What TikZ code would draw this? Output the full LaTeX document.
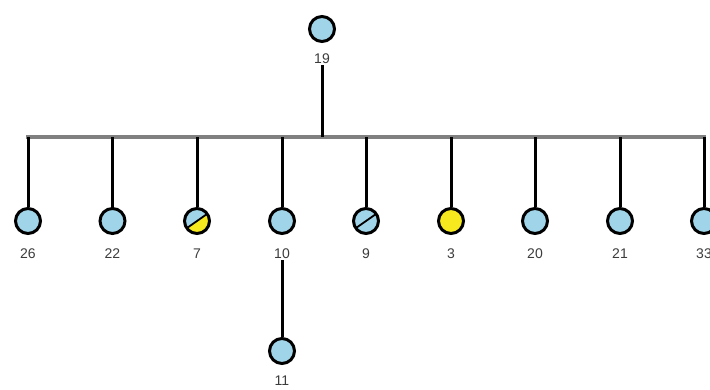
\documentclass[tikz,border=0pt]{standalone}
\usepackage{fontspec}
\setmainfont{Liberation Sans}
\usetikzlibrary{calc}
\definecolor{lblue}{RGB}{160,212,232}
\definecolor{ylw}{RGB}{246,234,30}
\definecolor{bargray}{RGB}{128,128,128}
\definecolor{txt}{RGB}{60,60,60}
\tikzset{
  pnode/.style={circle,draw=black,line width=3pt,fill=lblue,minimum size=25pt,inner sep=0pt},
  lbl/.style={font=\fontsize{14}{14}\selectfont,text=txt,inner sep=1pt},
  stem/.style={line width=3pt,black},
  busline/.style={line width=4pt,bargray},
  halfy/.style={path picture={
     \fill[ylw] (path picture bounding box.center) ++(35:20) -- ++(215:40) -- ++(-55:20) -- ++(35:40) -- cycle;
     \draw[line width=1.8pt] (path picture bounding box.center) ++(35:20) -- ++(215:40);}},
  slash/.style={path picture={
     \draw[line width=1.8pt] (path picture bounding box.center) ++(35:20) -- ++(215:40);}}
}
\begin{document}
\begin{tikzpicture}[x=1pt,y=1pt]
\useasboundingbox[fill=white] (0,0) rectangle (710,-389);
% root
\node[pnode] (n19) at (322,-29) {};
\node[lbl] (l19) at (322,-59) {19};
% bus
\coordinate (b19) at (322,-137);
\foreach \nm/\x in {26/28,22/112.5,7/197,10/282,9/366,3/451,20/535,21/620,33/704}{
  \coordinate (b\nm) at (\x,-137);
}
\coordinate (busL) at (26,-137);
\coordinate (busR) at (706,-137);
\draw[busline] (busL) -- (busR);
\draw[stem] (l19.south) -- (b19);
% children
\node[pnode] (n26) at (28,-221) {};
\node[pnode] (n22) at (112.5,-221) {};
\node[pnode,halfy] (n7) at (197,-221) {};
\node[pnode] (n10) at (282,-221) {};
\node[pnode,slash] (n9) at (366,-221) {};
\node[pnode,fill=ylw] (n3) at (451,-221) {};
\node[pnode] (n20) at (535,-221) {};
\node[pnode] (n21) at (620,-221) {};
\node[pnode] (n33) at (704,-221) {};
\foreach \nm in {26,22,7,10,9,3,20,21,33}{
  \draw[stem] (b\nm) -- (n\nm.north);
  \node[lbl] (l\nm) at ($(n\nm)+(0,-33)$) {\nm};
}
% grandchild
\node[pnode] (n11) at (282,-351) {};
\node[lbl] (l11) at (282,-381) {11};
\draw[stem] (l10.south) -- (n11.north);
\end{tikzpicture}
\end{document}
